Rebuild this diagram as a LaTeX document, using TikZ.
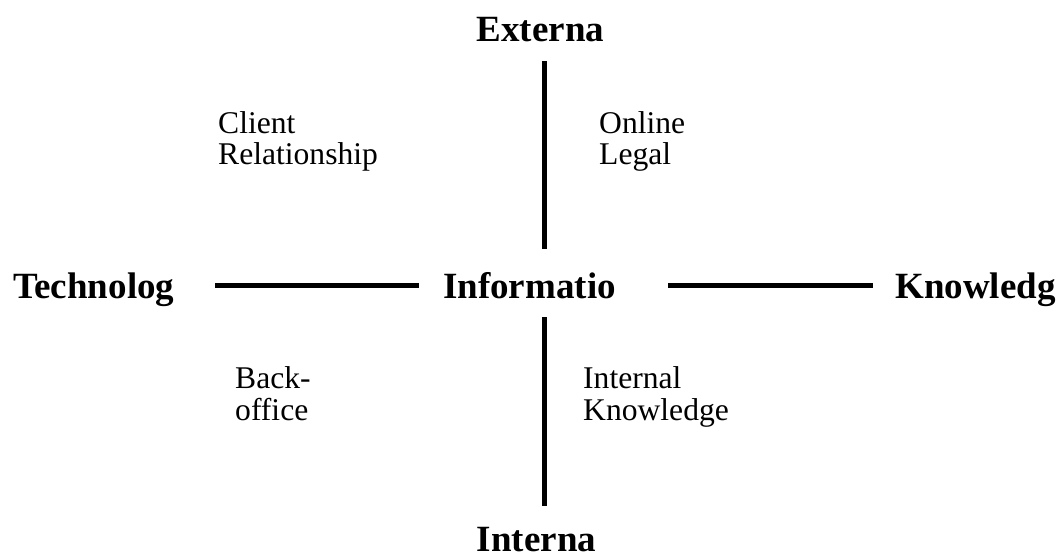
\documentclass[tikz,border=0pt]{standalone}
\usepackage{fontspec}
\setmainfont{Liberation Serif}
\begin{document}
\begin{tikzpicture}[x=1pt,y=-1pt,
  axislabel/.style={font=\fontsize{37}{40}\selectfont\bfseries, inner sep=0pt},
  quadlabel/.style={font=\fontsize{31.6}{32}\selectfont, inner sep=0pt, align=left, anchor=base west},
  axisline/.style={line width=5.5pt, line cap=butt}]
\useasboundingbox (0,0) rectangle (1059,556);
% axis labels
\node[axislabel, anchor=base] (ext) at (540.5,42) {Externa};
\node[axislabel, anchor=base, text depth=0pt] (int) at (536.5,551) {Interna};
\node[axislabel, anchor=base west] (tech) at (13,298) {Technolog};
\node[axislabel, anchor=base west] (info) at (443,298) {Informatio};
\node[axislabel, anchor=base west] (know) at (895,298) {Knowledg};
% quadrant labels (base = baseline of the last line)
\node[quadlabel] (crm) at (218,165) {Client\\Relationship};
\node[quadlabel] (onl) at (599,165) {Online\\Legal};
\node[quadlabel] (back) at (235,420) {Back-\\office};
\node[quadlabel] (ikm) at (583,420) {Internal\\Knowledge};
% line end points
\coordinate (vt1) at (544.5,61);
\coordinate (vt2) at (544.5,249);
\coordinate (vb1) at (544.5,317);
\coordinate (vb2) at (544.5,506);
\coordinate (hl1) at (215,285.5);
\coordinate (hl2) at (419,285.5);
\coordinate (hr1) at (668,285.5);
\coordinate (hr2) at (873,285.5);
\draw[axisline] (vt1) -- (vt2);
\draw[axisline] (vb1) -- (vb2);
\draw[axisline] (hl1) -- (hl2);
\draw[axisline] (hr1) -- (hr2);
\end{tikzpicture}
\end{document}
